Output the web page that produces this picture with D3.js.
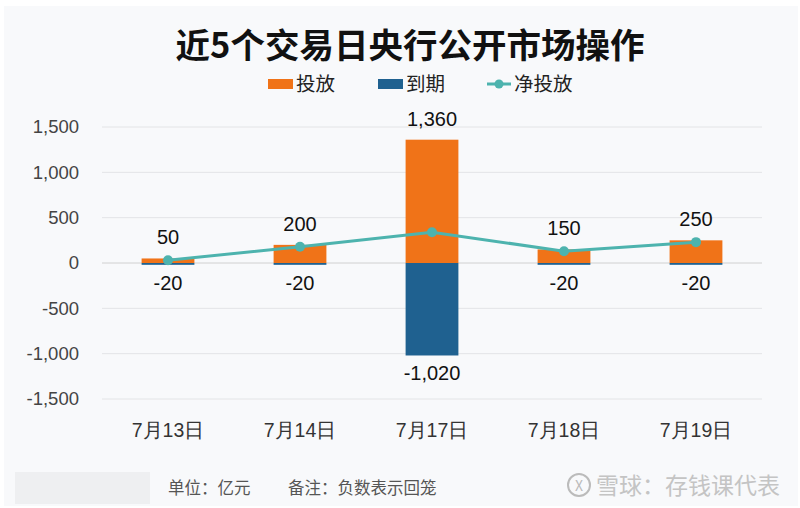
<!DOCTYPE html>
<html><head><meta charset="utf-8">
<script src="https://cdn.jsdelivr.net/npm/d3@7/dist/d3.min.js"></script>
<style>body{margin:0;background:#fff;}svg{display:block;font-family:"Noto Sans CJK SC","Liberation Sans",sans-serif;}</style>
</head><body><svg id="c" width="800" height="508"></svg>
<script>
const categories = ["7月13日","7月14日","7月17日","7月18日","7月19日"];
const injection = [50, 200, 1360, 150, 250];
const maturity = [-20, -20, -1020, -20, -20];
const netInjection = [30, 180, 340, 130, 230];
const yTicks = [-1500, -1000, -500, 0, 500, 1000, 1500];

const svg = d3.select("#c");
svg.append("rect").attr("x",4).attr("y",6).attr("width",794).attr("height",500).attr("fill","#f8f9fb");

const x = d3.scaleBand().domain(categories).range([102, 762]).paddingInner(0.6).paddingOuter(0.3);
const y = d3.scaleLinear().domain([-1500, 1500]).range([399, 127]);
const f0 = d3.format(",");
const fmt = d => f0(d).replace("\u2212","-");
const numFont = "Liberation Sans, Arial, sans-serif";

// gridlines
svg.append("g").selectAll("line").data(yTicks).join("line")
  .attr("x1",102).attr("x2",762).attr("y1",d=>y(d)).attr("y2",d=>y(d))
  .attr("stroke",d=>d===0?"#d0d0d0":"#e3e4e6").attr("stroke-width",1);

// y axis
const yAxis = d3.axisLeft(y).tickValues(yTicks).tickFormat(fmt).tickSize(0).tickPadding(0);
const ya = svg.append("g").attr("transform","translate(79,0)").call(yAxis);
ya.select(".domain").remove();
ya.selectAll("text").attr("font-size",18.5).attr("fill","#444").attr("font-family",numFont);

// x axis
const xAxis = d3.axisBottom(x).tickSize(0).tickPadding(0);
const xa = svg.append("g").attr("transform","translate(0,437)").call(xAxis);
xa.select(".domain").remove();
xa.selectAll("text").attr("font-size",19.5).attr("fill","#333").attr("dy","0").attr("y",0);

// bars
svg.append("g").selectAll("rect").data(injection).join("rect")
  .attr("x",(d,i)=>x(categories[i])).attr("width",x.bandwidth())
  .attr("y",d=>y(d)).attr("height",d=>y(0)-y(d)).attr("fill","#f07318");
svg.append("g").selectAll("rect").data(maturity).join("rect")
  .attr("x",(d,i)=>x(categories[i])).attr("width",x.bandwidth())
  .attr("y",y(0)).attr("height",d=>y(d)-y(0)).attr("fill","#1f6190");

// line
const cx = i => x(categories[i]) + x.bandwidth()/2;
svg.append("path").datum(netInjection)
  .attr("d", d3.line().x((d,i)=>cx(i)).y(d=>y(d)))
  .attr("fill","none").attr("stroke","#4db3ae").attr("stroke-width",3);
svg.append("g").selectAll("circle").data(netInjection).join("circle")
  .attr("cx",(d,i)=>cx(i)).attr("cy",d=>y(d)).attr("r",5).attr("fill","#4db3ae");

// labels
svg.append("g").selectAll("text").data(injection).join("text")
  .attr("x",(d,i)=>cx(i)).attr("y",d=>y(d)-14).attr("text-anchor","middle")
  .attr("font-size",20).attr("fill","#111").attr("font-family",numFont)
  .text(d=>fmt(d));
svg.append("g").selectAll("text").data(maturity).join("text")
  .attr("x",(d,i)=>cx(i)).attr("y",d=>y(d)+25).attr("text-anchor","middle")
  .attr("font-size",20).attr("fill","#111").attr("font-family",numFont)
  .text(d=>fmt(d));

// title
svg.append("text").attr("x",410).attr("y",58).attr("text-anchor","middle")
  .attr("font-size",34.5).attr("font-weight","bold").attr("fill","#111").text("近5个交易日央行公开市场操作");

// legend
const lg = svg.append("g").attr("font-size",19.5).attr("fill","#222");
lg.append("rect").attr("x",268).attr("y",79).attr("width",25).attr("height",10).attr("fill","#f07318");
lg.append("text").attr("x",296).attr("y",91).text("投放");
lg.append("rect").attr("x",378).attr("y",79).attr("width",25).attr("height",10).attr("fill","#1f6190");
lg.append("text").attr("x",406).attr("y",91).text("到期");
lg.append("line").attr("x1",487).attr("x2",511).attr("y1",84).attr("y2",84).attr("stroke","#4db3ae").attr("stroke-width",3);
lg.append("circle").attr("cx",499).attr("cy",84).attr("r",4.5).attr("fill","#4db3ae");
lg.append("text").attr("x",514).attr("y",91).text("净投放");

// footer
svg.append("rect").attr("x",15).attr("y",472).attr("width",135).attr("height",32).attr("fill","#eeeff1");
svg.append("text").attr("x",168).attr("y",494).attr("font-size",16.5).attr("fill","#555").text("单位：亿元");
svg.append("text").attr("x",288).attr("y",494).attr("font-size",16.5).attr("fill","#555").text("备注：负数表示回笼");
svg.append("circle").attr("cx",579).attr("cy",485).attr("r",11).attr("fill","none").attr("stroke","#bbb").attr("stroke-width",2);
svg.append("text").attr("x",579).attr("y",491).attr("text-anchor","middle").attr("font-size",14).attr("fill","#bbb").text("X");
svg.append("text").attr("x",596).attr("y",494).attr("font-size",23).attr("fill","#c4c4c4").text("雪球：存钱课代表");
</script></body></html>
